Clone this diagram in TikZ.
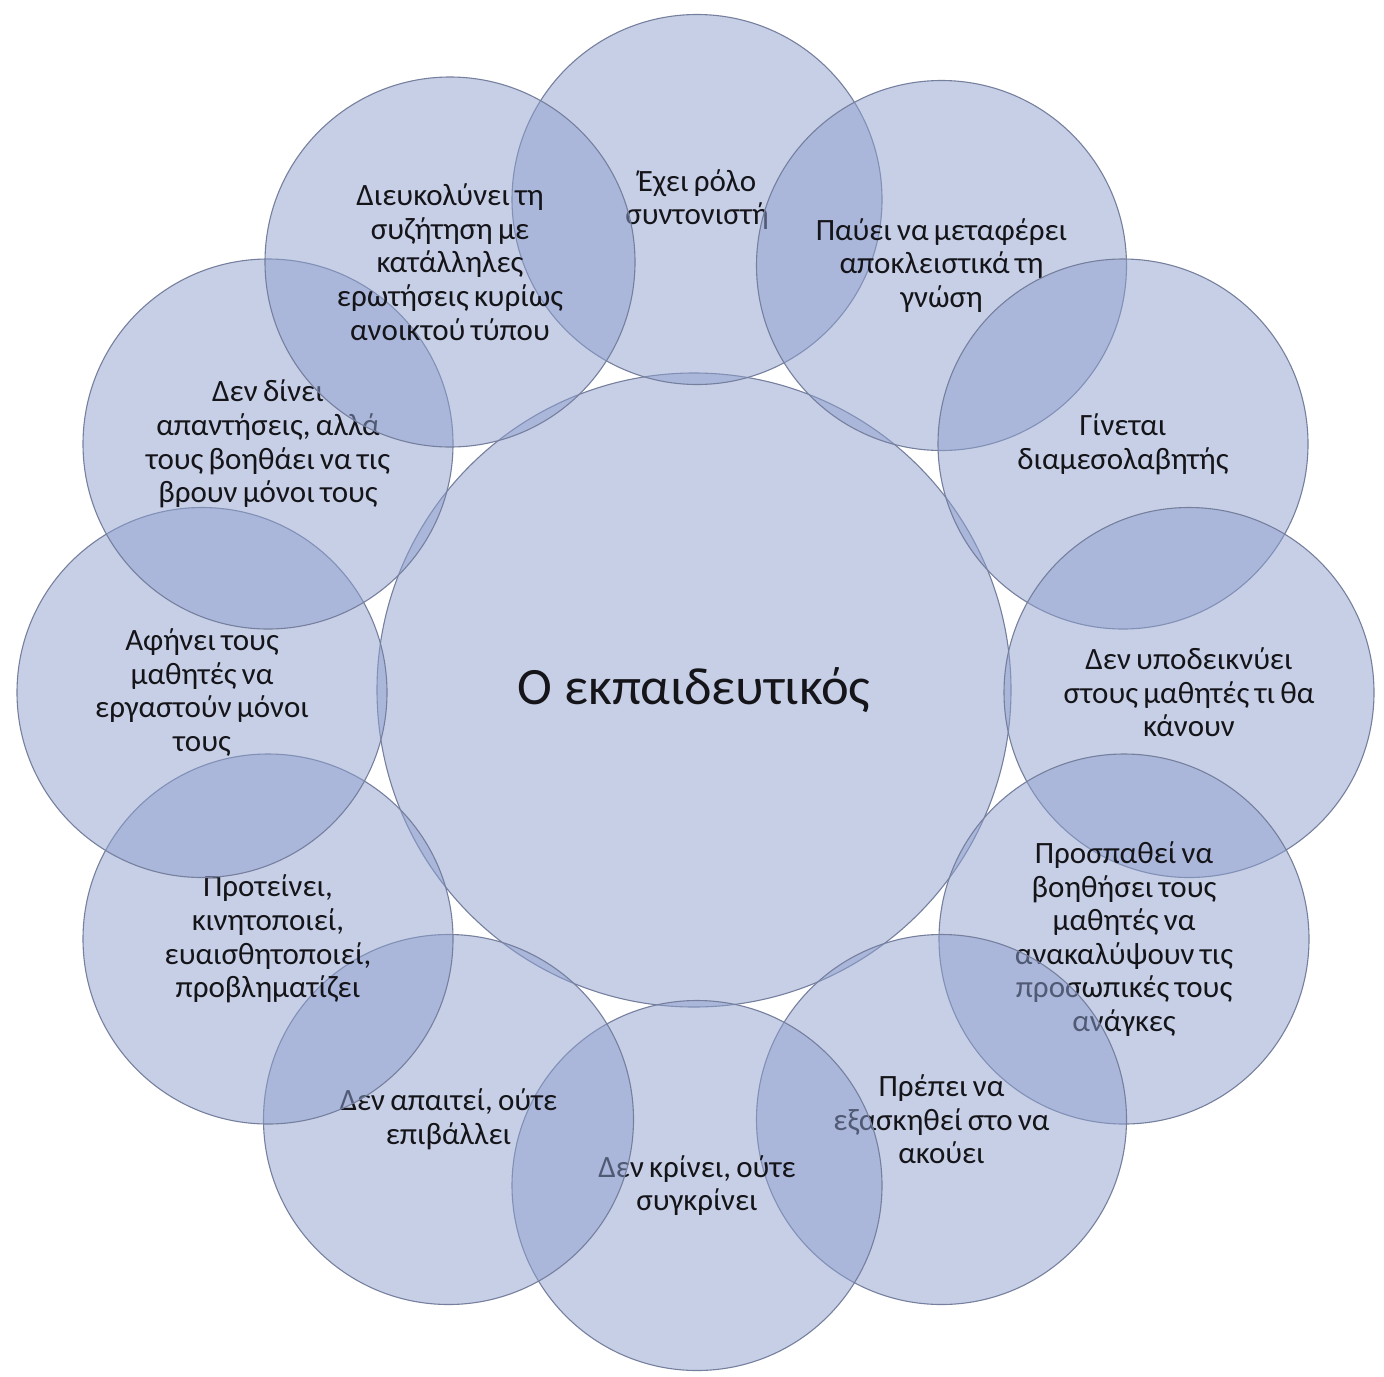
\documentclass[tikz,border=0pt]{standalone}
\usepackage{fontspec}
\setmainfont{Carlito}
\definecolor{cfill}{RGB}{143,160,207}
\definecolor{cedge}{RGB}{118,128,158}
\definecolor{ctext}{RGB}{20,20,25}
\newcommand{\tightsp}{\spaceskip=0.17em plus 0.05em minus 0.05em\relax}
\begin{document}
\begin{tikzpicture}[x=1pt,y=-1pt,
  bub/.style={circle, minimum size=370pt, inner sep=0pt, fill=cfill, fill opacity=0.5, text opacity=1,
    draw=cedge, line width=1.1pt, align=center, text=ctext, font=\fontsize{31}{33.6}\selectfont\tightsp},
  hub/.style={bub, minimum size=634pt, font=\fontsize{52.5}{60}\selectfont}]
\fill[white] (0,0) rectangle (1384,1376);
\useasboundingbox (0,0) rectangle (1384,1376);
\node[hub] (c) at (694,690) {Ο εκπαιδευτικός};
\node[bub] (b1) at (697,199.5) {Έχει ρόλο\\συντονιστή};
\node[bub] (b2) at (941.5,265.5) {Παύει να μεταφέρει\\αποκλειστικά τη\\γνώση};
\node[bub] (b3) at (1123,444) {Γίνεται\\διαμεσολαβητής};
\node[bub] (b4) at (1189,692.5) {Δεν υποδεικνύει\\στους μαθητές τι θα\\κάνουν};
\node[bub] (b5) at (1124,939) {Προσπαθεί να\\βοηθήσει τους\\μαθητές να\\ανακαλύψουν τις\\προσωπικές τους\\ανάγκες};
\node[bub] (b6) at (941.5,1119.5) {Πρέπει να\\εξασκηθεί στο να\\ακούει};
\node[bub] (b7) at (697,1185.5) {Δεν κρίνει, ούτε\\συγκρίνει};
\node[bub] (b8) at (448.5,1119.5) {Δεν απαιτεί, ούτε\\επιβάλλει};
\node[bub] (b9) at (268,939) {Προτείνει,\\κινητοποιεί,\\ευαισθητοποιεί,\\προβληματίζει};
\node[bub] (b10) at (202,692.5) {Αφήνει τους\\μαθητές να\\εργαστούν μόνοι\\τους};
\node[bub] (b11) at (268,444) {Δεν δίνει\\απαντήσεις, αλλά\\τους βοηθάει να τις\\βρουν μόνοι τους};
\node[bub] (b12) at (450,262) {Διευκολύνει τη\\συζήτηση με\\κατάλληλες\\ερωτήσεις κυρίως\\ανοικτού τύπου};
\end{tikzpicture}
\end{document}
